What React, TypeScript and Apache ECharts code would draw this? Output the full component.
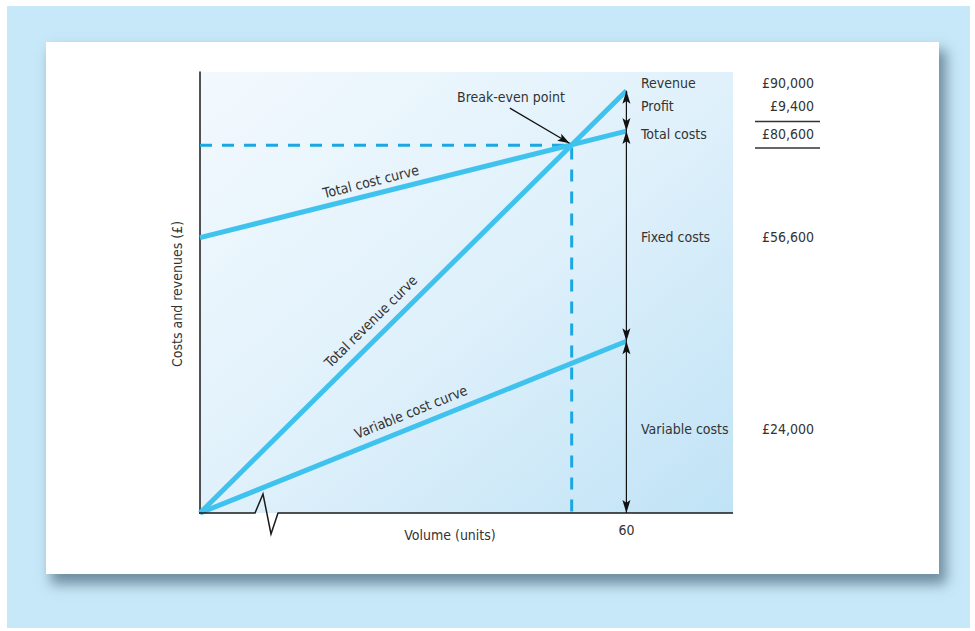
import React, { useEffect, useRef } from "react";
import * as echarts from "echarts";

// ---- data ----
const volumes = [0, 60];
const revenueValues = [0, 90000];
const totalCostValues = [58700, 81400];
const variableCostValues = [0, 36600];
const breakEvenVolume = 52.3;
const breakEvenValue = 78400;
const breakEvenArrowFrom = [43.6, 86300];
const rightLabels = ["Revenue", "Profit", "Total costs", "Fixed costs", "Variable costs"];
const rightValues = ["£90,000", "£9,400", "£80,600", "£56,600", "£24,000"];
const xTickLabels = ["60"];
const curveLabels = ["Total cost curve", "Total revenue curve", "Variable cost curve"];

const FONT = '"Liberation Sans Narrow", "DejaVu Sans Condensed", Arial, sans-serif';
const FS = 14;
const LINE = "#3fc3ee";
const DASH = "#1ba8e2";
const INK = "#333333";

export default function App() {
  const ref = useRef<HTMLDivElement>(null);

  useEffect(() => {
    if (!ref.current) return;
    const chart = echarts.init(ref.current, undefined, { renderer: "svg" });
    const pair = (ys: number[]) => volumes.map((v, i) => [v, ys[i]]);
    chart.setOption({
      animation: false,
      backgroundColor: "transparent",
      grid: {
        left: 200,
        top: 72,
        width: 533,
        height: 441,
        show: true,
        borderWidth: 0,
        outerBoundsMode: "none",
        backgroundColor: new echarts.graphic.LinearGradient(0, 0, 1, 1, [
          { offset: 0, color: "#f3f9fe" },
          { offset: 0.5, color: "#e0f1fb" },
          { offset: 1, color: "#c0e3f6" },
        ]),
      },
      xAxis: {
        type: "value",
        min: 0,
        max: 75,
        interval: 60,
        axisLine: { show: false },
        axisTick: { show: false },
        splitLine: { show: false },
        axisLabel: {
          showMaxLabel: false,
          margin: 10,
          fontFamily: FONT,
          fontSize: FS,
          color: INK,
          formatter: (v: number) => (xTickLabels.includes(String(v)) ? String(v) : ""),
        },
      },
      yAxis: {
        type: "value",
        min: 0,
        max: 94000,
        axisLine: { show: true, lineStyle: { color: "#1a1a1a", width: 1.5 } },
        axisTick: { show: false },
        splitLine: { show: false },
        axisLabel: { show: false },
      },
      series: [
        {
          type: "line",
          data: [[0, breakEvenValue], [breakEvenVolume, breakEvenValue], [breakEvenVolume, 0]],
          symbol: "none",
          lineStyle: { color: DASH, width: 3, type: [12, 10] },
          z: 2,
        },
        {
          type: "line",
          data: pair(totalCostValues),
          symbol: "none",
          lineStyle: { color: LINE, width: 5 },
          z: 3,
        },
        {
          type: "line",
          data: pair(revenueValues),
          symbol: "none",
          lineStyle: { color: LINE, width: 5 },
          z: 3,
        },
        {
          type: "line",
          data: pair(variableCostValues),
          symbol: "none",
          lineStyle: { color: LINE, width: 5 },
          z: 3,
        },
      ],
    });

    const p = (x: number, y: number) => chart.convertToPixel({ gridIndex: 0 }, [x, y]) as number[];

    const head = (tip: number[], from: number[], len = 13, half = 4) => {
      const dx = tip[0] - from[0];
      const dy = tip[1] - from[1];
      const L = Math.hypot(dx, dy);
      const ux = dx / L, uy = dy / L;
      const nx = -uy, ny = ux;
      const bx = tip[0] - ux * len, by = tip[1] - uy * len;
      const ix = tip[0] - ux * len * 0.78, iy = tip[1] - uy * len * 0.78;
      return {
        type: "polygon",
        z: 20,
        shape: { points: [tip, [bx + nx * half, by + ny * half], [ix, iy], [bx - nx * half, by - ny * half]] },
        style: { fill: "#111" },
      };
    };
    const shaft = (a: number[], b: number[]) => ({
      type: "line",
      z: 19,
      shape: { x1: a[0], y1: a[1], x2: b[0], y2: b[1] },
      style: { stroke: "#111", lineWidth: 1.2 },
    });
    const dbl = (a: number[], b: number[]) => [shaft(a, b), head(a, b), head(b, a)];

    const txt = (text: string, x: number, y: number, align = "left", rotation = 0) => ({
      type: "text",
      x,
      y,
      rotation,
      z: 30,
      style: {
        text,
        fill: INK,
        font: `${FS}px ${FONT}`,
        align,
        verticalAlign: "middle",
      },
    });

    // curve label placed along a line at pixel x, offset perpendicular by d
    const along = (text: string, ys: number[], px: number, d: number) => {
      const a = p(volumes[0], ys[0]);
      const b = p(volumes[1], ys[1]);
      const ang = Math.atan2(a[1] - b[1], b[0] - a[0]);
      const t = (px - a[0]) / (b[0] - a[0]);
      const ly = a[1] + (b[1] - a[1]) * t;
      const cx = px - Math.sin(ang) * d;
      const cy = ly - Math.cos(ang) * d;
      return txt(text, cx, cy, "center", ang);
    };

    const o = p(0, 0);
    const xe = p(75, 0);
    const top = p(60, revenueValues[1]);
    const tc = p(60, totalCostValues[1]);
    const vc = p(60, variableCostValues[1]);
    const base = p(60, 0);
    const beFrom = p(breakEvenArrowFrom[0], breakEvenArrowFrom[1]);
    const beTo = p(breakEvenVolume - 0.3, breakEvenValue + 400);

    const graphic: any[] = [
      {
        type: "polyline",
        z: 15,
        shape: {
          points: [
            [o[0] - 1, o[1]],
            [o[0] + 55, o[1]],
            [o[0] + 63, o[1] - 19],
            [o[0] + 71, o[1] + 21],
            [o[0] + 78, o[1]],
            [xe[0], xe[1]],
          ],
        },
        style: { stroke: "#1a1a1a", lineWidth: 1.5, fill: null },
      },
      ...dbl(top, tc),
      ...dbl(tc, vc),
      ...dbl(vc, base),
      shaft(beFrom, beTo),
      head(beTo, beFrom, 12, 4),
      txt("Break-even point", 457, 97),
      along(curveLabels[0], totalCostValues, 374, 13),
      along(curveLabels[1], revenueValues, 382, 16),
      along(curveLabels[2], variableCostValues, 416.5, 15),
      txt("Volume (units)", 450, 535, "center"),
      txt("Costs and revenues (£)", 177, 294, "center", Math.PI / 2),
    ];
    const labelYs = [83, 106, 134, 237, 429];
    rightLabels.forEach((l, i) => graphic.push(txt(l, 641, labelYs[i])));
    rightValues.forEach((l, i) => graphic.push(txt(l, 814, labelYs[i], "right")));
    [121.5, 148].forEach((y) =>
      graphic.push({
        type: "line",
        z: 30,
        shape: { x1: 755, y1: y, x2: 820, y2: y },
        style: { stroke: "#333", lineWidth: 1.3 },
      })
    );
    chart.setOption({ graphic });

    return () => chart.dispose();
  }, []);

  return (
    <div style={{ position: "fixed", left: 0, top: 0, width: 975, height: 631, background: "#ffffff" }}>
      <div style={{ position: "absolute", left: 7, top: 6, width: 963, height: 622, background: "#c7e8f8" }} />
      <div
        style={{
          position: "absolute",
          left: 46,
          top: 42,
          width: 893,
          height: 532,
          background: "#ffffff",
          boxShadow: "6px 9px 12px 1px rgba(80,110,130,0.75)",
        }}
      />
      <div ref={ref} style={{ position: "absolute", left: 0, top: 0, width: 975, height: 631 }} />
    </div>
  );
}
